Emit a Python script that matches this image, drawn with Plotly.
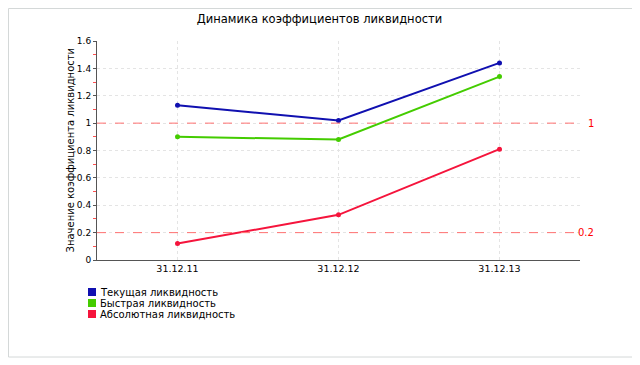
import plotly.graph_objects as go

categories = ["31.12.11", "31.12.12", "31.12.13"]
current_ratio = [1.13, 1.02, 1.44]
quick_ratio = [0.90, 0.88, 1.34]
absolute_ratio = [0.12, 0.33, 0.81]
series_names = ["Текущая ликвидность", "Быстрая ликвидность", "Абсолютная ликвидность"]
series_colors = ["#1010b0", "#44cc00", "#f5143c"]
thresholds = [1, 0.2]
threshold_labels = ["1", "0.2"]
y_ticks = [0, 0.2, 0.4, 0.6, 0.8, 1, 1.2, 1.4, 1.6]
y_tick_text = ["0", "0.2", "0.4", "0.6", "0.8", "1", "1.2", "1.4", "1.6"]

FONT = "DejaVu Sans"
OFF = 8  # page body margin
W, H = 640 - OFF, 365 - OFF
PL, PT, PW, PH = 97, 41, 483, 219  # plot area in screen coords

fig = go.Figure()
for name, vals, col in zip(series_names, [current_ratio, quick_ratio, absolute_ratio], series_colors):
    fig.add_trace(go.Scatter(
        x=categories, y=vals, name=name, mode="lines+markers",
        line=dict(color=col, width=2), marker=dict(color=col, size=5),
        showlegend=False,
    ))

def px(x):
    return (x - PL) / PW

def py(y):
    return (PT + PH - y) / PH

shapes = []
annotations = []
for t, lab in zip(thresholds, threshold_labels):
    shapes.append(dict(type="line", xref="paper", yref="y", x0=0, x1=px(582), y0=t, y1=t,
                       line=dict(color="#ff7070", width=1, dash="dash"), layer="above"))
    annotations.append(dict(xref="paper", yref="y", x=px(596), y=t, text=lab, showarrow=False,
                            xanchor="right", yanchor="middle",
                            font=dict(family=FONT, size=10, color="#ff0000")))

# legend drawn as small squares + labels
for i, (name, col) in enumerate(zip(series_names, series_colors)):
    yc = 292 + 11 * i
    shapes.append(dict(type="rect", xref="paper", yref="paper", x0=px(88), x1=px(96),
                       y0=py(yc + 4), y1=py(yc - 4), fillcolor=col, line=dict(width=0)))
    annotations.append(dict(xref="paper", yref="paper", x=px(98), y=py(yc), text=name,
                            showarrow=False, xanchor="left", yanchor="middle",
                            font=dict(family=FONT, size=10, color="#000000")))

# y axis title
annotations.append(dict(xref="paper", yref="paper", x=px(70), y=0.5, text="Значение коэффициента ликвидности",
                        showarrow=False, textangle=-90, xanchor="center", yanchor="middle",
                        font=dict(family=FONT, size=10, color="#000000")))

# outer frame
shapes.append(dict(type="rect", xref="paper", yref="paper",
                   x0=px(8.5), x1=px(634), y0=py(357), y1=py(8.5),
                   line=dict(color="#d4d8d8", width=1), fillcolor="rgba(0,0,0,0)", layer="below"))

fig.update_layout(
    width=W, height=H,
    margin=dict(l=PL - OFF, r=W - (PL - OFF) - PW, t=PT - OFF, b=H - (PT - OFF) - PH),
    paper_bgcolor="white", plot_bgcolor="white",
    title=dict(text="Динамика коэффициентов ликвидности", x=(319.5 - OFF) / W, xanchor="center",
               y=1 - (19 - OFF) / H, yanchor="middle", xref="container", yref="container",
               font=dict(family=FONT, size=11.5, color="#000000")),
    font=dict(family=FONT, size=10, color="#000000"),
    shapes=shapes, annotations=annotations,
    xaxis=dict(type="category", range=[-0.5, 2.5], showgrid=True, gridcolor="#e4e4e4",
               griddash="dot", gridwidth=1, showline=True, linecolor="#555555", linewidth=1,
               ticks="", tickfont=dict(family=FONT, size=9.5), zeroline=False),
    yaxis=dict(range=[0, 1.6], tickvals=y_ticks, ticktext=y_tick_text, showgrid=True,
               gridcolor="#e4e4e4", griddash="dot", showline=True, linecolor="#555555",
               linewidth=1, ticks="outside", ticklen=3, tickcolor="#555555",
               tickfont=dict(family=FONT, size=9), zeroline=False,
               minor=dict(ticks="outside", ticklen=3, tickcolor="#ff5050", dtick=0.1, showgrid=False)),
)

fig.write_html("out.html")
